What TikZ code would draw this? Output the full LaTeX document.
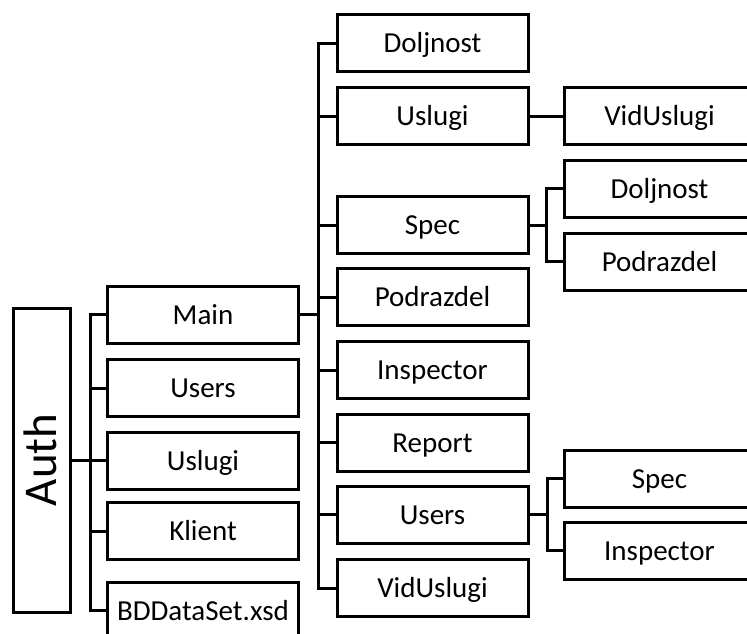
\documentclass[tikz,border=0pt]{standalone}
\usepackage{fontspec}
\setmainfont{Carlito}
\usepackage{tikz}

\begin{document}
\begin{tikzpicture}[x=1pt,y=-1pt,line width=3pt,box/.style={draw,minimum width=191pt,minimum height=57pt,inner sep=0pt,text height=19pt,text depth=0pt,font=\fontsize{29}{34}\selectfont}]
\useasboundingbox (0,0) rectangle (747,634);
\clip (0,0) rectangle (747,634);
\node[draw,rotate=90,minimum width=304pt,minimum height=57pt,inner sep=0pt,text height=30pt,text depth=0pt,font=\fontsize{47}{56}\selectfont] (auth) at (41.5,460) {Auth};
% first level
\node[box] (main) at (203,314.5) {Main};
\node[box] (users) at (203,388) {Users};
\node[box] (uslugi) at (203,460.5) {Uslugi};
\node[box] (klient) at (203,531) {Klient};
\node[box] (bdds) at (203,610.5) {BDDataSet.xsd};
% second level
\node[box] (doljnost2) at (432.5,43.5) {Doljnost};
\node[box] (uslugi2) at (432.5,116) {Uslugi};
\node[box] (spec2) at (432.5,225) {Spec};
\node[box] (podrazdel2) at (432.5,297) {Podrazdel};
\node[box] (inspector2) at (432.5,370) {Inspector};
\node[box] (report2) at (432.5,442.5) {Report};
\node[box] (users2) at (432.5,514.5) {Users};
\node[box] (viduslugi2) at (432.5,588) {VidUslugi};
% third level
\node[box] (viduslugi3) at (659.5,116) {VidUslugi};
\node[box] (doljnost3) at (659.5,188.5) {Doljnost};
\node[box] (podrazdel3) at (659.5,261.5) {Podrazdel};
\node[box] (spec3) at (659.5,478.5) {Spec};
\node[box] (inspector3) at (659.5,550.5) {Inspector};
% connectors
\coordinate (t1) at (90,460);
\coordinate (t2) at (318,314.5);
\coordinate (t3) at (546,225);
\coordinate (t4) at (547,514.5);
\draw (auth.south) -- (t1);
\foreach \n in {main,users,uslugi,klient,bdds}{\draw (t1) |- (\n.west);};
\draw (main.east) -- (t2);
\foreach \n in {doljnost2,uslugi2,spec2,podrazdel2,inspector2,report2,users2,viduslugi2}{\draw (t2) |- (\n.west);};
\draw (uslugi2.east) -- (viduslugi3.west);
\draw (spec2.east) -- (t3);
\foreach \n in {doljnost3,podrazdel3}{\draw (t3) |- (\n.west);};
\draw (users2.east) -- (t4);
\foreach \n in {spec3,inspector3}{\draw (t4) |- (\n.west);};
\end{tikzpicture}
\end{document}
